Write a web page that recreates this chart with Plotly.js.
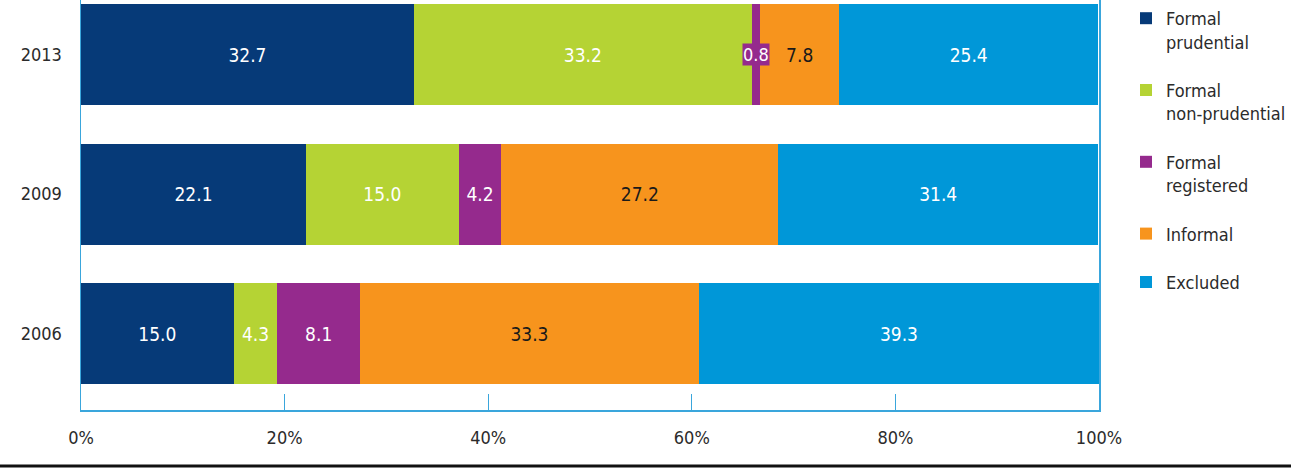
<!DOCTYPE html>
<html>
<head>
<meta charset="utf-8">
<script src="https://cdn.plot.ly/plotly-3.0.1.min.js"></script>
<style>
html,body{margin:0;padding:0;background:#fff;}
#chart{width:1291px;height:474px;}
</style>
</head>
<body>
<div id="chart"></div>
<script>
const years = ['2006', '2009', '2013'];
const seriesNames = ['Formal<br>prudential', 'Formal<br>non-prudential', 'Formal<br>registered', 'Informal', 'Excluded'];
const formalPrudential = [15.0, 22.1, 32.7];
const formalNonPrudential = [4.3, 15.0, 33.2];
const formalRegistered = [8.1, 4.2, 0.8];
const informal = [33.3, 27.2, 7.8];
const excluded = [39.3, 31.4, 25.4];
const xTickVals = [0, 20, 40, 60, 80, 100];
const xTickLabels = ['0%', '20%', '40%', '60%', '80%', '100%'];

const series = [formalPrudential, formalNonPrudential, formalRegistered, informal, excluded];
const colors = ['#063a78', '#b5d334', '#952a8d', '#f7941d', '#0097d8'];
const textColors = ['#ffffff', '#ffffff', '#ffffff', '#1a1a1a', '#ffffff'];
const FONT = '"Liberation Sans Narrow", "DejaVu Sans Condensed", "DejaVu Sans", sans-serif';

const traces = series.map((vals, i) => ({
  type: 'bar',
  orientation: 'h',
  name: seriesNames[i],
  y: years,
  x: vals,
  text: vals.map(v => v >= 2 ? v.toFixed(1) : ''),
  textposition: 'inside',
  insidetextanchor: 'middle',
  textfont: {family: FONT, size: 19, color: textColors[i]},
  marker: {color: colors[i], line: {width: 0}},
  hoverinfo: 'skip',
  legendgroup: 'g' + i
}));

// small values shown as a labelled box on the bar
const annotations = [];
series.forEach((vals, i) => {
  vals.forEach((v, j) => {
    if (v < 2) {
      let before = 0;
      for (let k = 0; k < i; k++) before += series[k][j];
      annotations.push({
        x: before + v / 2, y: j, xref: 'x', yref: 'y',
        text: v.toFixed(1), showarrow: false,
        bgcolor: colors[i], borderpad: 0,
        font: {family: FONT, size: 18, color: '#ffffff'}
      });
    }
  });
});

const layout = {
  width: 1291, height: 474,
  margin: {l: 81, r: 192, t: 0, b: 64},
  paper_bgcolor: '#ffffff', plot_bgcolor: '#ffffff',
  barmode: 'stack',
  bargap: 0.276,
  font: {family: FONT, size: 18, color: '#2b2b2b'},
  showlegend: true,
  legend: {
    x: 1.027, xanchor: 'left', y: 1.0, yanchor: 'top',
    traceorder: 'grouped', valign: 'top',
    tracegroupgap: 22,
    font: {family: FONT, size: 18, color: '#2b2b2b'},
    bgcolor: 'rgba(0,0,0,0)'
  },
  xaxis: {
    range: [0, 100], tickmode: 'array', tickvals: xTickVals, ticktext: xTickLabels,
    showgrid: false, zeroline: false,
    showline: true, linecolor: '#3aa6dc', linewidth: 1.5,
    ticks: 'inside', ticklen: 16, tickcolor: '#3aa6dc', tickwidth: 1,
    tickfont: {family: FONT, size: 18, color: '#2b2b2b'},
    ticklabelstandoff: 11,
    fixedrange: true
  },
  yaxis: {
    type: 'category', categoryorder: 'array', categoryarray: years,
    range: [-0.548, 2.391],
    showgrid: false, zeroline: false,
    showline: true, mirror: true, linecolor: '#3aa6dc', linewidth: 1.5,
    ticks: '',
    tickfont: {family: FONT, size: 18, color: '#2b2b2b'},
    ticklabelstandoff: 14,
    fixedrange: true
  },
  annotations: annotations,
  shapes: [{
    type: 'line', xref: 'paper', yref: 'paper',
    x0: -0.0796, x1: 1.19, y0: -0.1366, y1: -0.1366,
    line: {color: '#111111', width: 3}
  }]
};

Plotly.newPlot('chart', traces, layout, {staticPlot: true, displayModeBar: false});
</script>
</body>
</html>
